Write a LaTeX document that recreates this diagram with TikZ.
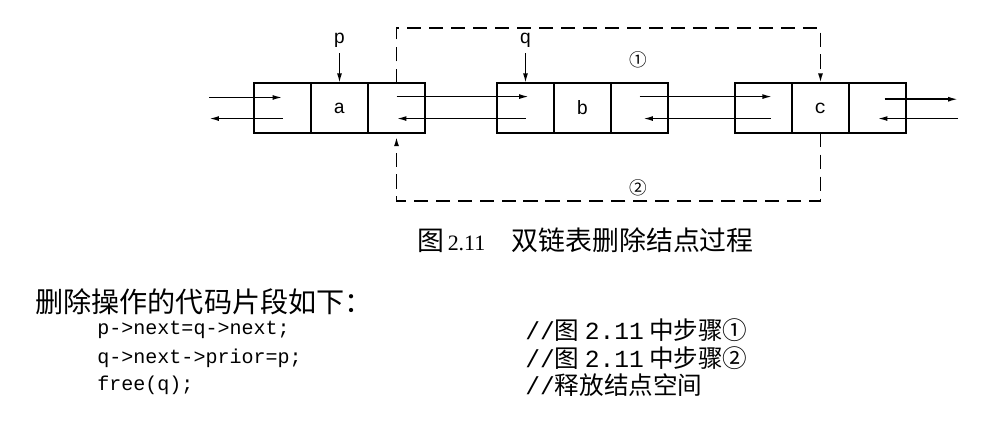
\documentclass[tikz,border=0pt]{standalone}
\usepackage{fontspec}
\setmainfont{Liberation Serif}
\setmonofont{Liberation Mono}
\newfontfamily\cjk{Noto Sans CJK SC}
\usetikzlibrary{arrows.meta,positioning}

\begin{document}
\begin{tikzpicture}[x=0.2cm,y=-0.2cm,
  cell/.style={draw,line width=1.1pt,minimum width=1.14cm,minimum height=0.99cm,
    inner sep=0pt,outer sep=0pt,font=\ttfamily\fontsize{11}{13}\selectfont},
  link/.style={line width=0.9pt,-{Latex[length=5.6pt,width=2.8pt]}},
  route/.style={line width=1pt,dash pattern=on 8pt off 4.5pt,-{Latex[length=5.6pt,width=2.8pt]}},
  ptr/.style={font=\ttfamily\fontsize{11}{13}\selectfont,inner sep=3pt},
  stepno/.style={font=\cjk\fontsize{10}{12}\selectfont},
  code/.style={anchor=west,inner sep=0pt,font=\ttfamily\fontsize{11.4}{13}\selectfont},
  note/.style={anchor=west,inner sep=0pt,font=\ttfamily\fontsize{14}{16}\selectfont}]
  \useasboundingbox (0,0) rectangle (99.7,43.6);
  % the three nodes
  \node[cell] (a1) at (28.25,10.8) {};
  \node[cell,right=0pt of a1] (a2) {a};
  \node[cell,right=0pt of a2] (a3) {};
  \node[cell] (b1) at (52.55,10.8) {};
  \node[cell,right=0pt of b1] (b2) {b};
  \node[cell,right=0pt of b2] (b3) {};
  \node[cell] (c1) at (76.35,10.8) {};
  \node[cell,right=0pt of c1] (c2) {c};
  \node[cell,right=0pt of c2] (c3) {};
  \coordinate (west) at (20.9,10.8);
  \coordinate (east) at (95.8,10.8);
  % links
  \draw[link] ([yshift=6pt]west) -- ([yshift=6pt]a1.center);
  \draw[link] ([yshift=-6pt]a1.center) -- ([yshift=-6pt]west);
  \draw[link] ([yshift=6.5pt]a3.center) -- ([yshift=6.5pt,xshift=2pt]b1.center);
  \draw[link] ([yshift=-6pt]b1.center) -- ([yshift=-6pt]a3.center);
  \draw[link] ([yshift=6.5pt]b3.center) -- ([yshift=6.5pt,xshift=5pt]c1.center);
  \draw[link] ([yshift=-6pt,xshift=4pt]c1.center) -- ([yshift=-6pt,xshift=2pt]b3.center);
  \draw[link] ([yshift=5pt,xshift=4pt]c3.center) -- ([yshift=5pt]east);
  \draw[link] ([yshift=-6pt]east) -- ([yshift=-6pt]c3.center);
  % pointers
  \node[ptr,above=0.6cm of a2.north] (p) {p};
  \node[ptr,above=0.6cm of b1.north] (q) {q};
  \draw[link] (p) -- (a2.north);
  \draw[link] (q) -- (b1.north);
  % steps 1 and 2
  \draw[route] (a3.north) -- ++(0,-5.5) -| (c2.north);
  \draw[route] (c2.south) -- ++(0,6.85) -| ([yshift=-2pt]a3.south);
  \node[stepno] (s1) at (63.8,6.0) {①};
  \node[stepno] (s2) at (63.8,18.8) {②};
  % caption and code
  \node[anchor=west,inner sep=0pt] (cap) at (41.7,24.0)
    {{\cjk\fontsize{15.3}{18}\selectfont 图}\hspace{2pt}\fontsize{12.5}{15}\selectfont 2.11\hspace{15pt}{\cjk\fontsize{15.3}{18}\selectfont 双链表删除结点过程}};
  \node[anchor=west,inner sep=0pt,font=\cjk\fontsize{16}{20}\selectfont] (intro) at (3.5,30.2) {删除操作的代码片段如下：};
  \node[code] (l1) at (9.7,33.0) {p->next=q->next;};
  \node[code] (l2) at (9.7,35.8) {q->next->prior=p;};
  \node[code] (l3) at (9.7,38.5) {free(q);};
  \node[note] (m1) at (52.5,33.0) {//{\cjk 图}\hspace{3pt}2.11\hspace{3pt}{\cjk 中步骤①}};
  \node[note] (m2) at (52.5,35.8) {//{\cjk 图}\hspace{3pt}2.11\hspace{3pt}{\cjk 中步骤②}};
  \node[note] (m3) at (52.5,38.5) {//{\cjk 释放结点空间}};
\end{tikzpicture}
\end{document}
